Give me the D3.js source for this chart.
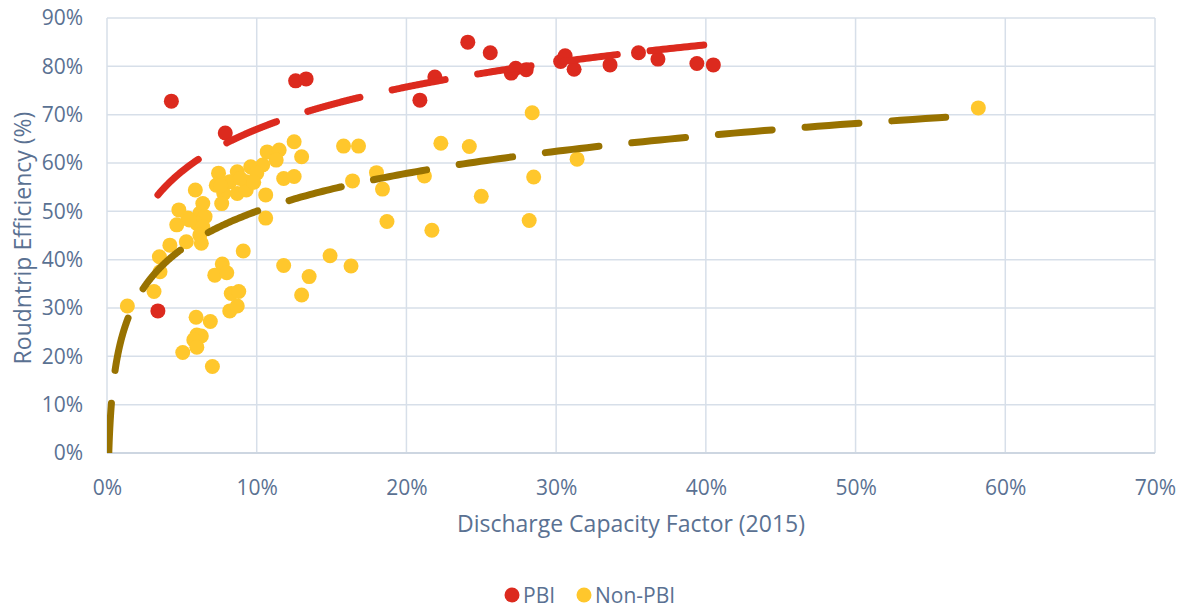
<!DOCTYPE html>
<html lang="en">
<head>
<meta charset="UTF-8">
<title>Roundtrip Efficiency vs Discharge Capacity Factor</title>
<script src="https://d3js.org/d3.v7.min.js"></script>
<style>
    body {
        margin: 0;
        padding: 0;
        background: #fff;
        overflow: hidden;
    }
    text {
        font-family: "Open Sans", sans-serif;
        fill: #5A7192;
    }
    .tick-label { font-size: 21px; }
    .axis-title { font-size: 23px; }
    .legend-text { font-size: 21px; }
    .grid line { stroke: #D7DFE9; stroke-width: 1.5; }
</style>
</head>
<body>
<div id="chart"></div>
<script>
    // data: discharge capacity factor (%) vs roundtrip efficiency (%)
    const pbiX = [4.3, 3.4, 7.9, 12.6, 13.3, 20.9, 21.9, 24.1, 25.6, 27.0, 27.3, 28.0, 30.3, 30.6, 31.2, 33.6, 35.5, 36.8, 39.4, 40.5];
    const pbiY = [72.8, 29.4, 66.2, 77.0, 77.4, 73.0, 77.8, 85.0, 82.8, 78.6, 79.6, 79.3, 81.0, 82.2, 79.4, 80.3, 82.8, 81.5, 80.6, 80.3];

    const nonPbiX = [
        58.2, 28.4, 15.8, 16.8, 22.3, 24.2, 31.4, 18.0, 16.4, 18.4, 21.2, 28.5, 25.0, 18.7, 21.7, 28.2, 14.9, 16.3, 13.5, 13.0,
        12.5, 13.0, 10.7, 11.5, 11.3, 11.8, 12.5, 10.4, 9.6, 8.7, 7.45, 10.0, 9.3, 8.2, 7.3, 7.8, 8.7, 9.3, 10.6, 10.6,
        5.9, 6.4, 7.66, 4.8, 6.2, 5.4, 6.55, 6.0, 4.66, 6.4, 6.2, 5.3, 6.3, 4.2, 9.1, 3.5, 8.9, 9.8, 7.6, 5.5,
        1.36, 3.14, 3.54, 5.95, 6.9, 6.0, 6.3, 5.8, 6.0, 5.06, 7.04, 7.2, 7.7, 8.0, 8.3, 8.8, 8.2, 8.7, 11.8
    ];
    const nonPbiY = [
        71.4, 70.4, 63.5, 63.5, 64.1, 63.4, 60.8, 58.0, 56.3, 54.6, 57.3, 57.1, 53.1, 47.9, 46.1, 48.1, 40.8, 38.7, 36.5, 32.7,
        64.4, 61.3, 62.3, 62.7, 60.6, 56.8, 57.2, 59.6, 59.2, 58.2, 57.9, 57.9, 56.1, 56.1, 55.4, 53.7, 53.7, 54.4, 53.4, 48.6,
        54.4, 51.6, 51.6, 50.3, 49.6, 48.6, 48.9, 47.5, 47.2, 46.8, 45.1, 43.7, 43.4, 43.0, 41.8, 40.6, 56.8, 56.0, 55.3, 48.2,
        30.4, 33.4, 37.5, 28.1, 27.2, 24.4, 24.2, 23.4, 21.9, 20.8, 17.9, 36.8, 39.1, 37.3, 33.0, 33.4, 29.4, 30.4, 38.8
    ];

    // logarithmic trendlines as shown on the chart: y = a + b * ln(x)
    const pbiTrend = { a: 96.0, b: 12.6, from: 3.4, to: 40.5 };
    const nonPbiTrend = { a: 76.0, b: 11.28, from: 0.11, to: 58.2 };

    const xTicks = [0, 10, 20, 30, 40, 50, 60, 70];
    const yTicks = [0, 10, 20, 30, 40, 50, 60, 70, 80, 90];

    const series = [
        { name: "PBI", xs: pbiX, ys: pbiY, color: "#DC2A1E", trend: pbiTrend, trendColor: "#DC2A1E" },
        { name: "Non-PBI", xs: nonPbiX, ys: nonPbiY, color: "#FFC72C", trend: nonPbiTrend, trendColor: "#987200" }
    ];

    const W = 1180, H = 608;
    const plot = { left: 107, right: 1155, top: 18, bottom: 453 };

    const svg = d3.select("#chart").append("svg")
        .attr("width", W)
        .attr("height", H);

    const x = d3.scaleLinear().domain([0, 70]).range([plot.left, plot.right]);
    const y = d3.scaleLinear().domain([0, 90]).range([plot.bottom, plot.top]);

    // grid lines
    const grid = svg.append("g").attr("class", "grid");
    grid.selectAll(".h").data(yTicks).enter().append("line")
        .attr("x1", plot.left).attr("x2", plot.right)
        .attr("y1", d => y(d)).attr("y2", d => y(d));
    grid.selectAll(".v").data(xTicks).enter().append("line")
        .attr("x1", d => x(d)).attr("x2", d => x(d))
        .attr("y1", plot.top).attr("y2", plot.bottom);

    // axes (labels only, lines come from the grid)
    const xAxis = svg.append("g")
        .attr("transform", `translate(0,${plot.bottom})`)
        .call(d3.axisBottom(x).tickValues(xTicks).tickFormat(d => d + "%").tickSize(0).tickPadding(27));
    const yAxis = svg.append("g")
        .attr("transform", `translate(${plot.left},0)`)
        .call(d3.axisLeft(y).tickValues(yTicks).tickFormat(d => d + "%").tickSize(0).tickPadding(24));
    [xAxis, yAxis].forEach(a => {
        a.select(".domain").remove();
        a.selectAll("text").attr("class", "tick-label").attr("fill", null);
        a.attr("font-family", null).attr("font-size", null);
    });
    svg.append("line")
        .attr("x1", plot.left).attr("x2", plot.right)
        .attr("y1", plot.bottom).attr("y2", plot.bottom)
        .attr("stroke", "#CDD6E1").attr("stroke-width", 2);

    // axis titles
    svg.append("text")
        .attr("class", "axis-title")
        .attr("x", (plot.left + plot.right) / 2)
        .attr("y", 532)
        .attr("text-anchor", "middle")
        .text("Discharge Capacity Factor (2015)");

    svg.append("text")
        .attr("class", "axis-title")
        .attr("transform", "translate(31,238) rotate(-90)")
        .attr("text-anchor", "middle")
        .text("Roudntrip Efficiency (%)");

    // scatter points
    series.forEach(s => {
        svg.append("g").selectAll("circle")
            .data(s.xs.map((v, i) => [v, s.ys[i]]))
            .enter().append("circle")
            .attr("cx", d => x(d[0]))
            .attr("cy", d => y(d[1]))
            .attr("r", 7.5)
            .attr("fill", s.color);
    });

    // trendlines, clipped to the plot area
    svg.append("clipPath").attr("id", "plotClip")
        .append("rect")
        .attr("x", plot.left).attr("y", plot.top)
        .attr("width", plot.right - plot.left).attr("height", plot.bottom - plot.top);

    const line = d3.line().x(d => x(d[0])).y(d => y(d[1]));

    series.forEach(s => {
        const t = s.trend;
        const xs = d3.range(0, 401).map(i => t.from * Math.pow(t.to / t.from, i / 400));
        svg.append("path")
            .attr("clip-path", "url(#plotClip)")
            .attr("d", line(xs.map(v => [v, t.a + t.b * Math.log(v / 100)])))
            .attr("fill", "none")
            .attr("stroke", s.trendColor)
            .attr("stroke-width", 7)
            .attr("stroke-linecap", "round")
            .attr("stroke-dasharray", "54 33");
    });

    // legend
    const legend = svg.append("g").attr("transform", "translate(0,595)");
    const items = [
        { name: "PBI", color: "#DC2A1E", cx: 512, tx: 523 },
        { name: "Non-PBI", color: "#FFC72C", cx: 584, tx: 595 }
    ];
    items.forEach(it => {
        legend.append("circle").attr("cx", it.cx).attr("cy", 0).attr("r", 7.5).attr("fill", it.color);
        legend.append("text").attr("class", "legend-text").attr("x", it.tx).attr("y", 7.5).text(it.name);
    });
</script>
</body>
</html>
